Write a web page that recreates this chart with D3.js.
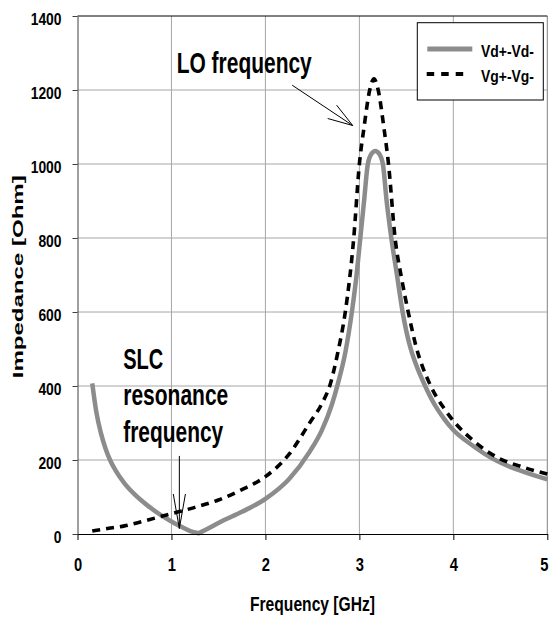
<!DOCTYPE html>
<html>
<head>
<meta charset="utf-8">
<script src="https://cdn.jsdelivr.net/npm/d3@7"></script>
<style>
  body { margin: 0; background: #fff; }
  text { font-family: "Liberation Sans", Arial, sans-serif; font-weight: bold; fill: #000; }
</style>
</head>
<body>
<div id="chart"></div>
<script>

// Vd+-Vd- (solid gray) 
const freqVd = [0.157, 0.2, 0.25, 0.3, 0.35, 0.4, 0.5, 0.6, 0.75, 0.9, 1.0, 1.1, 1.2, 1.29, 1.4, 1.5, 1.75, 2.0, 2.25, 2.47, 2.6, 2.71, 2.77, 2.85, 2.92, 2.97, 3.01, 3.05, 3.09, 3.13, 3.17, 3.21, 3.25, 3.29, 3.34, 3.4, 3.46, 3.54, 3.6, 3.7, 3.8, 3.9, 4.0, 4.2, 4.35, 4.5, 4.75, 5.0];
const impVd  = [407, 330, 272, 230, 198, 174, 137, 109, 76, 49, 34, 20, 8, 2, 16, 30, 60, 95, 148, 222, 280, 352, 405, 490, 600, 700, 800, 900, 1000, 1028, 1035, 1028, 1000, 900, 800, 700, 600, 506, 460, 400, 350, 312, 281, 240, 214, 193, 168, 148];

// Vg+-Vg- (dashed black)
const freqVg = [0.157, 0.3, 0.5, 0.75, 1.0, 1.25, 1.5, 1.75, 2.0, 2.25, 2.47, 2.6, 2.69, 2.77, 2.85, 2.94, 3.0, 3.05, 3.11, 3.155, 3.2, 3.26, 3.31, 3.38, 3.45, 3.52, 3.6, 3.75, 3.9, 4.0, 4.2, 4.46, 4.75, 5.0];
const impVg  = [8, 14, 22, 38, 55, 72, 92, 120, 155, 215, 300, 352, 405, 490, 600, 800, 1000, 1100, 1200, 1230, 1200, 1100, 1000, 800, 690, 600, 510, 405, 340, 306, 255, 208, 180, 162];

const xTicks = [0, 1, 2, 3, 4, 5];
const yTicks = [0, 200, 400, 600, 800, 1000, 1200, 1400];
const seriesNames = ["Vd+-Vd-", "Vg+-Vg-"];

const width = 549, height = 623;
const margin = {top: 16, right: 1.7, bottom: 89, left: 77.5};

const svg = d3.select("#chart")
    .append("svg")
    .attr("width", width)
    .attr("height", height);

const x = d3.scaleLinear()
    .domain([0, 5])
    .range([margin.left, width - margin.right]);

const y = d3.scaleLinear()
    .domain([0, 1400])
    .range([height - margin.bottom, margin.top]);

// squeezes text to the narrow look of the original
function label(g, str, size, len) {
  return g.append("text")
      .attr("font-size", size)
      .attr("textLength", len)
      .attr("lengthAdjust", "spacingAndGlyphs")
      .text(str);
}

// grid
svg.append("g")
  .selectAll("line")
  .data(xTicks.slice(1))
  .join("line")
    .attr("x1", d => x(d)).attr("x2", d => x(d))
    .attr("y1", y(0)).attr("y2", y(1400))
    .attr("stroke", d => d === 5 ? "#808080" : "#a6a6a6")
    .attr("stroke-width", 1);

svg.append("g")
  .selectAll("line")
  .data(yTicks.slice(1))
  .join("line")
    .attr("x1", x(0)).attr("x2", x(5))
    .attr("y1", d => y(d)).attr("y2", d => y(d))
    .attr("stroke", d => d === 1400 ? "#000" : "#a6a6a6")
    .attr("stroke-width", 1);

// curves
const line = d3.line()
    .x(d => x(d[0]))
    .y(d => y(d[1]))
    .curve(d3.curveMonotoneX);

// the gray curve has a sharp dip at the SLC resonance, so draw it in two pieces
const vd = d3.zip(freqVd, impVd);
const iMin = d3.minIndex(impVd);
const vdPath = line(vd.slice(0, iMin + 1)) + line(vd.slice(iMin)).replace(/^M/, "L");

svg.append("path")
    .attr("fill", "none")
    .attr("stroke", "#8c8c8c")
    .attr("stroke-width", 4.5)
    .attr("stroke-linejoin", "round")
    .attr("d", vdPath);

svg.append("path")
    .datum(d3.zip(freqVg, impVg))
    .attr("fill", "none")
    .attr("stroke", "#000")
    .attr("stroke-width", 3.6)
    .attr("stroke-dasharray", "8,6")
    .attr("d", line);

// y axis
const yAxis = svg.append("g")
    .attr("transform", `translate(${x(0)},0)`)
    .call(d3.axisLeft(y).tickValues(yTicks).tickFormat(d3.format("d"))
          .tickSize(5).tickSizeOuter(0).tickPadding(11));
yAxis.select(".domain").attr("stroke", "#404040");
yAxis.selectAll(".tick line").attr("stroke", "#404040");
yAxis.selectAll(".tick text")
    .attr("font-size", 17)
    .attr("font-family", null)
    .attr("dy", 8)
    .attr("textLength", d => String(d).length * 7.7)
    .attr("lengthAdjust", "spacingAndGlyphs");

// x axis
const xAxis = svg.append("g")
    .attr("transform", `translate(0,${y(0)})`)
    .call(d3.axisBottom(x).tickValues(xTicks).tickFormat(d3.format("d"))
          .tickSize(6).tickSizeOuter(0));
xAxis.select(".domain").attr("stroke", "#000");
xAxis.selectAll(".tick text")
    .attr("font-size", 18)
    .attr("font-family", null)
    .attr("y", 36.7)
    .attr("dy", 0)
    .attr("textLength", 8.2)
    .attr("lengthAdjust", "spacingAndGlyphs");
// last label sits on the right edge, keep it inside the page
xAxis.selectAll(".tick text").filter(d => d === 5)
    .attr("text-anchor", "end")
    .attr("x", width - 1 - x(5));

// axis titles
label(svg, "Frequency [GHz]", 21, 125)
    .attr("x", 250).attr("y", 611);

label(svg, "Impedance [Ohm]", 14.5, 203)
    .attr("transform", `translate(22.7,378.3) rotate(-90)`);

// legend
const legend = svg.append("g");
legend.append("rect")
    .attr("x", 417.3).attr("y", 22.7)
    .attr("width", 126).attr("height", 77.3)
    .attr("fill", "#fff").attr("stroke", "#000").attr("stroke-width", 1);
legend.append("line")
    .attr("x1", 427.3).attr("x2", 472.3).attr("y1", 49).attr("y2", 49)
    .attr("stroke", "#8c8c8c").attr("stroke-width", 5);
legend.append("line")
    .attr("x1", 426.7).attr("x2", 467).attr("y1", 74).attr("y2", 74)
    .attr("stroke", "#000").attr("stroke-width", 4).attr("stroke-dasharray", "7.5,7");
label(legend, seriesNames[0], 17, 53).attr("x", 481).attr("y", 57.3);
label(legend, seriesNames[1], 17, 53).attr("x", 481).attr("y", 81.7);

// annotations (positions in data units)
const loText = [1.056, 1245];
const loArrow = [[2.285, 1213], [2.929, 1104]];
const slcText = [0.487, 446];
const slcLines = ["SLC", "resonance", "frequency"];
const slcLens = [40, 105, 100];
const slcArrow = [[1.084, 211], [1.084, 15]];

label(svg, "LO frequency", 30, 135)
    .attr("x", x(loText[0])).attr("y", y(loText[1]));

slcLines.forEach((s, i) => {
  label(svg, s, 30, slcLens[i])
      .attr("x", x(slcText[0]))
      .attr("y", y(slcText[1]) + i * 36.4);
});

function arrow(pts, headLen, headAng) {
  const x0 = x(pts[0][0]), y0 = y(pts[0][1]);
  const x1 = x(pts[1][0]), y1 = y(pts[1][1]);
  const a = Math.atan2(y0 - y1, x0 - x1);
  const g = svg.append("g").attr("stroke", "#000").attr("stroke-width", 1);
  g.append("line").attr("x1", x0).attr("y1", y0).attr("x2", x1).attr("y2", y1);
  [-headAng, headAng].forEach(da => {
    g.append("line")
        .attr("x1", x1).attr("y1", y1)
        .attr("x2", x1 + headLen * Math.cos(a + da))
        .attr("y2", y1 + headLen * Math.sin(a + da));
  });
}
arrow(loArrow, 26, 18 * Math.PI / 180);
arrow(slcArrow, 35, 10 * Math.PI / 180);

</script>
</body>
</html>
